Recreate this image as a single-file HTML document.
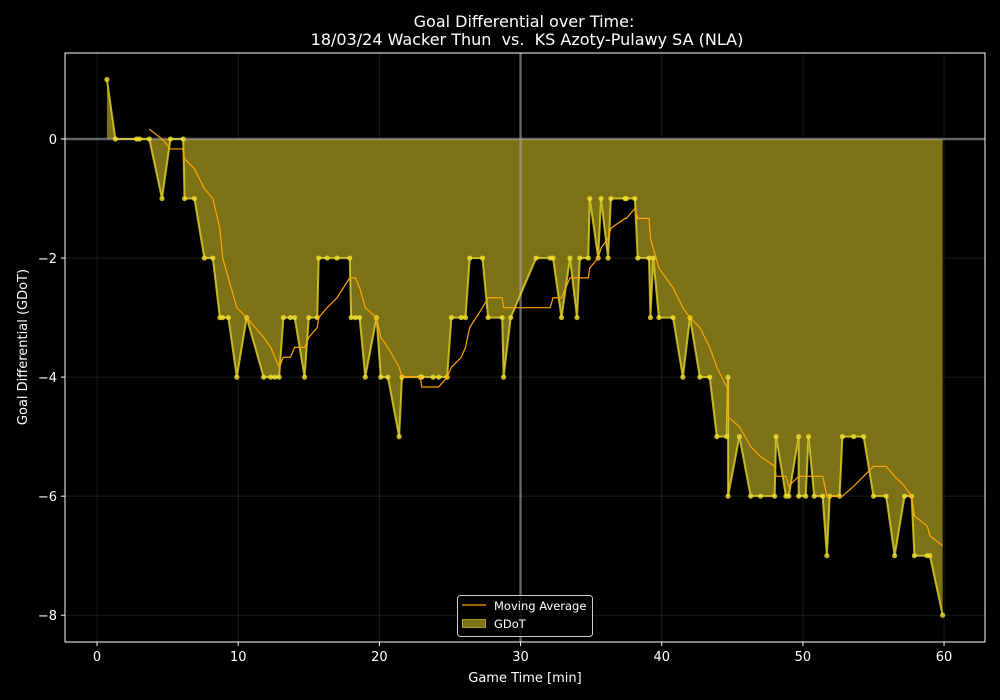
<!DOCTYPE html>
<html><head><meta charset="utf-8"><style>
html,body{margin:0;padding:0;background:#000;}
svg{display:block;font-family:"DejaVu Sans","Liberation Sans",sans-serif;}
</style></head><body>
<svg id="chart" width="1000" height="700" xmlns="http://www.w3.org/2000/svg">
<rect width="1000" height="700" fill="#000"/>
<text x="524" y="27" fill="#fff" font-size="16" text-anchor="middle">Goal Differential over Time:</text>
<text x="527" y="45" fill="#fff" font-size="16" text-anchor="middle">18/03/24 Wacker Thun &#160;vs. &#160;KS Azoty-Pulawy SA (NLA)</text>
<g id="plot"></g>
<text x="525" y="682" fill="#fff" font-size="13" text-anchor="middle">Game Time [min]</text>
<text transform="translate(27,347) rotate(-90)" fill="#fff" font-size="13" text-anchor="middle">Goal Differential (GDoT)</text>
</svg>
<script>
const times=[0.7,1.3,2.8,3.0,3.7,4.6,5.2,6.1,6.2,6.9,7.6,8.2,8.7,8.9,9.3,9.9,10.6,11.8,12.3,12.6,12.9,13.2,13.7,14.0,14.7,15.0,15.6,15.7,16.3,17.0,17.9,18.0,18.3,18.6,19.0,19.8,20.1,20.6,21.4,21.6,22.9,23.0,23.8,24.2,24.8,25.1,25.8,26.1,26.4,27.3,27.7,28.7,28.8,29.3,31.1,32.1,32.3,32.9,33.5,34.0,34.2,34.8,34.9,35.5,35.7,36.2,36.4,37.4,37.5,38.1,38.3,39.1,39.2,39.4,39.8,40.8,41.5,42.0,42.7,43.4,43.9,44.6,44.7,44.7,45.5,46.3,47.0,48.0,48.1,48.8,49.0,49.7,49.7,50.2,50.4,50.8,51.4,51.7,51.9,52.6,52.8,53.6,54.3,55.0,55.9,56.5,57.2,57.7,57.9,58.8,59.0,59.9];
const gdot=[1,0,0,0,0,-1,0,0,-1,-1,-2,-2,-3,-3,-3,-4,-3,-4,-4,-4,-4,-3,-3,-3,-4,-3,-3,-2,-2,-2,-2,-3,-3,-3,-4,-3,-4,-4,-5,-4,-4,-4,-4,-4,-4,-3,-3,-3,-2,-2,-3,-3,-4,-3,-2,-2,-2,-3,-2,-3,-2,-2,-1,-2,-1,-2,-1,-1,-1,-1,-2,-2,-3,-2,-3,-3,-4,-3,-4,-4,-5,-5,-4,-6,-5,-6,-6,-6,-5,-6,-6,-5,-6,-6,-5,-6,-6,-7,-6,-6,-5,-5,-5,-6,-6,-7,-6,-6,-7,-7,-7,-8];
const xTicks=[0,10,20,30,40,50,60];
const yTicks=[-8,-6,-4,-2,0];
const maWindow=6;
const X0=65,X1=985,Y0=53,Y1=642;
const xMin=-2.27,xMax=62.9,yMin=-8.45,yMax=1.445;
const sx=v=>X0+(v-xMin)/(xMax-xMin)*(X1-X0);
const sy=v=>Y1-(v-yMin)/(yMax-yMin)*(Y1-Y0);
const NS="http://www.w3.org/2000/svg";
const plot=document.getElementById('plot');
function mk(t,a,p){const e=document.createElementNS(NS,t);for(const k in a)e.setAttribute(k,a[k]);(p||plot).appendChild(e);return e;}
xTicks.forEach(t=>{const l=mk('line',{x1:sx(t),x2:sx(t),y1:Y0,y2:Y1,stroke:'#fff','stroke-opacity':0.12,'stroke-width':0.8});

});
yTicks.forEach(t=>{const l=mk('line',{x1:X0,x2:X1,y1:sy(t),y2:sy(t),stroke:'#fff','stroke-opacity':0.12,'stroke-width':0.8});

});
let d='M'+sx(times[0])+','+sy(0);
times.forEach((t,i)=>{d+=' L'+sx(t)+','+sy(gdot[i]);});
d+=' L'+sx(times[times.length-1])+','+sy(0)+' Z';
const area=mk('path',{d:d,fill:'#7c7115','fill-opacity':1,stroke:'none'});


const zl=mk('line',{x1:X0,x2:X1,y1:sy(0),y2:sy(0),stroke:'#aaa','stroke-opacity':0.55,'stroke-width':2.5});


const hl=mk('line',{x1:sx(30),x2:sx(30),y1:Y0,y2:Y1,stroke:'#aaa','stroke-opacity':0.55,'stroke-width':2.5});


const ln=mk('polyline',{points:times.map((t,i)=>sx(t)+','+sy(gdot[i])).join(' '),fill:'none',stroke:'#f0e030','stroke-opacity':0.75,'stroke-width':2});


times.forEach((t,i)=>{const c=mk('circle',{cx:sx(t),cy:sy(gdot[i]),r:2.6,fill:'#f0e030','fill-opacity':0.8});

});
const full=[0].concat(gdot);
const ma=[];
for(let i=maWindow-1;i<full.length;i++){let s=0;for(let j=i-maWindow+1;j<=i;j++)s+=full[j];ma.push([times[i-1],s/maWindow]);}
const mal=mk('polyline',{points:ma.map(p=>sx(p[0])+','+sy(p[1])).join(' '),fill:'none',stroke:'#ffa500','stroke-width':1.2});


const fr=mk('rect',{x:X0,y:Y0,width:X1-X0,height:Y1-Y0,fill:'none',stroke:'#fff','stroke-width':1});


xTicks.forEach(t=>{const tk=mk('line',{x1:sx(t),x2:sx(t),y1:Y1,y2:Y1+4,stroke:'#fff'});


const tx=mk('text',{x:sx(t),y:Y1+19,fill:'#fff','font-size':13,'text-anchor':'middle'});tx.textContent=t;

});
yTicks.forEach(t=>{const tk=mk('line',{x1:X0-4,x2:X0,y1:sy(t),y2:sy(t),stroke:'#fff'});


const tx=mk('text',{x:X0-8,y:sy(t)+5,fill:'#fff','font-size':13,'text-anchor':'end'});tx.textContent=(t<0?'\u2212'+(-t):t);

});
const lg=mk('g',{});


mk('rect',{x:457.5,y:595.5,width:135,height:41,rx:3,fill:'#000','fill-opacity':0.8,stroke:'#ccc'},lg);
const l1=mk('line',{x1:462,x2:486,y1:605,y2:605,stroke:'#ffa500','stroke-width':1.2},lg);


const t1=mk('text',{x:494,y:610,fill:'#fff','font-size':11.5},lg);t1.textContent='Moving Average';


const r2=mk('rect',{x:462.5,y:619.5,width:23,height:8,fill:'#7d7214',stroke:'#a89a20'},lg);


const t2=mk('text',{x:494,y:628,fill:'#fff','font-size':11.5},lg);t2.textContent='GDoT';


</script>
</body></html>
